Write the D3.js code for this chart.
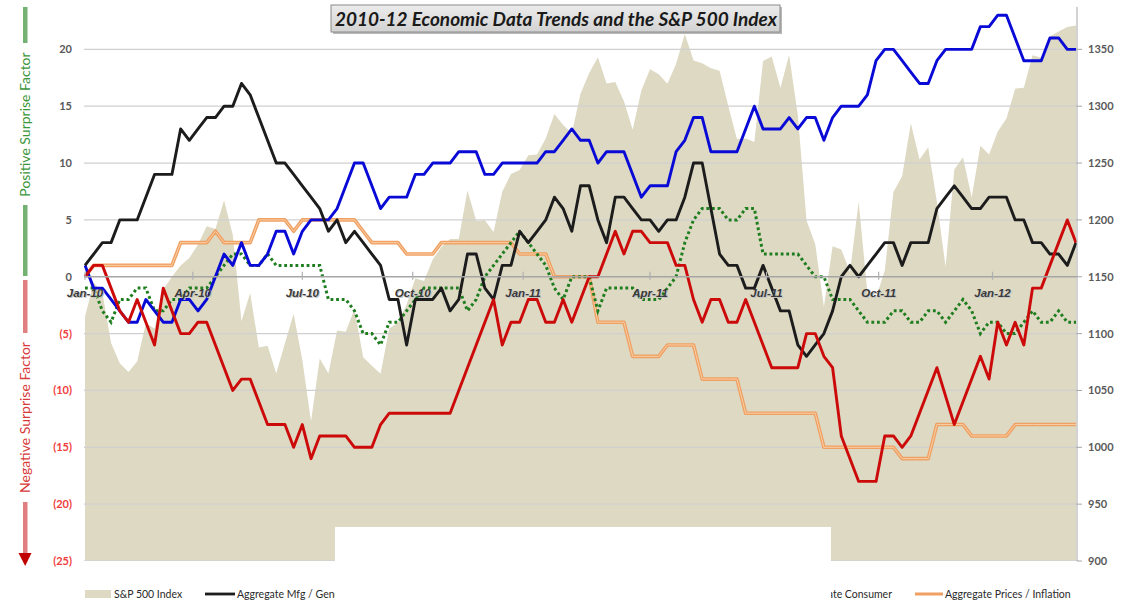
<!DOCTYPE html>
<html><head><meta charset="utf-8">
<script src="https://cdn.jsdelivr.net/npm/d3@7"></script>
<style>body{margin:0;background:#fff}svg{display:block}</style>
</head><body><svg id="c" width="1125" height="603"></svg>
<script>
// ---- DATA (weekly observations, Jan-2010 .. Mar-2012) ----
const weeks = d3.range(115); // category index of each weekly observation
const sp500 = [1115.1,1145.0,1136.0,1091.8,1073.9,1066.2,1075.5,1109.2,1104.5,1138.7,1150.0,1159.9,1166.6,1178.1,1194.4,1192.1,1217.3,1186.7,1110.9,1135.7,1087.7,1089.4,1064.9,1091.6,1117.5,1076.8,1022.6,1078.0,1064.9,1102.7,1101.6,1121.6,1079.3,1071.7,1064.6,1104.5,1109.6,1125.6,1148.7,1146.2,1165.2,1176.2,1183.1,1183.3,1225.9,1199.2,1199.7,1189.4,1224.7,1240.4,1243.9,1256.8,1257.6,1271.5,1293.2,1283.4,1276.3,1310.9,1329.2,1343.0,1319.9,1321.2,1304.3,1279.2,1313.8,1332.4,1328.2,1319.7,1337.4,1363.6,1340.2,1337.8,1333.3,1331.1,1300.2,1271.0,1271.5,1268.5,1339.7,1343.8,1316.1,1345.0,1292.3,1199.4,1178.8,1123.5,1176.8,1174.0,1154.2,1216.0,1136.4,1131.4,1155.5,1224.6,1238.3,1285.1,1253.2,1263.9,1215.7,1158.7,1244.3,1255.2,1219.7,1265.3,1257.6,1277.8,1289.1,1315.4,1316.3,1344.9,1342.6,1361.2,1365.7,1369.6,1370.9];
const mfg = [1,2,3,3,5,5,5,7,9,9,9,13,12,13,14,14,15,15,17,16,14,12,10,10,9,8,7,6,4,5,3,4,3,2,1,-2,-2,-6,-2,-2,-2,-1,-3,-2,2,2,-1,-2,1,1,4,3,4,5,7,6,4,8,8,5,3,7,7,6,5,5,4,5,5,7,10,10,6,2,1,1,-1,-1,1,-1,-3,-3,-6,-7,-6,-5,-3,0,1,0,1,2,3,3,1,3,3,3,6,7,8,7,6,6,7,7,7,5,5,3,3,2,2,1,3];
const employment = [1,-1,-1,-2,-3,-4,-4,-2,-3,-4,-4,-2,-2,-3,-2,0,2,1,3,1,1,2,4,4,2,4,5,5,5,6,8,10,10,8,6,7,7,7,9,9,10,10,10,11,11,11,9,9,10,10,10,10,10,11,11,12,13,12,12,10,11,11,11,9,7,8,8,8,11,12,14,14,11,11,11,11,13,15,13,13,13,14,13,14,14,12,14,15,15,15,16,19,20,20,19,18,17,17,19,20,20,20,20,22,22,23,23,21,19,19,19,21,21,20,20];
const housing = [0,1,1,-1,-3,-4,-2,-4,-6,-1,-3,-5,-5,-4,-4,-6,-8,-10,-9,-9,-11,-13,-13,-13,-15,-13,-16,-14,-14,-14,-14,-15,-15,-15,-13,-12,-12,-12,-12,-12,-12,-12,-12,-10,-8,-6,-4,-2,-6,-4,-4,-2,-2,-4,-4,-2,-4,-2,0,0,2,4,2,4,4,3,3,3,1,1,-2,-4,-2,-2,-4,-4,-2,-4,-6,-8,-8,-8,-8,-5,-5,-7,-8,-14,-16,-18,-18,-18,-14,-14,-15,-14,-12,-10,-8,-10.5,-13,-11,-9,-7,-9,-4,-6,-4,-6,-1,-1,1,3,5,3];
const consumer = [-1,-1,-3,-4,-2,-2,-1,-1,-3,-3,-2,-2,-1,-1,-1,0,1,2,2,1,1,2,1,1,1,1,1,1,-2,-2,-2,-3,-5,-5,-6,-4,-4,-3,-2,-1,-1,-1,-1,-1,-3,-2,0,1,2,3,4,3,2,1,-1,-2,0,0,0,-3,-1,-1,-1,-1,-2,-2,-2,-1,0,3,5,6,6,6,5,5,6,6,2,2,2,2,2,1,0,0,-2,-2,-2,-3,-4,-4,-4,-3,-3,-4,-4,-3,-3,-4,-3,-2,-3,-5,-4,-4,-5,-5,-4,-3,-4,-4,-3,-4,-4];
const prices = [0,1,1,1,1,1,1,1,1,1,1,3,3,3,3,4,3,3,3,3,5,5,5,5,4,5,5,5,5,5,5,5,4,3,3,3,3,2,2,2,2,3,3,3,3,3,3,3,3,3,2,2,2,2,0,0,0,0,0,-4,-4,-4,-4,-7,-7,-7,-7,-6,-6,-6,-6,-9,-9,-9,-9,-9,-12,-12,-12,-12,-12,-12,-12,-12,-12,-15,-15,-15,-15,-15,-15,-15,-15,-15,-16,-16,-16,-16,-13,-13,-13,-13,-14,-14,-14,-14,-14,-13,-13,-13,-13,-13,-13,-13,-13];
const leftTicks = [20,15,10,5,0,-5,-10,-15,-20,-25];
const rightTicks = [900,950,1000,1050,1100,1150,1200,1250,1300,1350];
const xTickPos = [0,12.4,25,37.7,50.4,65,78.4,91.3,104.4];
const xTickLabels = ["Jan-10","Apr-10","Jul-10","Oct-10","Jan-11","Apr-11","Jul-11","Oct-11","Jan-12"];
const titleText = "2010-12 Economic Data Trends and the S&P 500 Index";

// ---- CHART ----
const svg = d3.select("#c");
const x = d3.scaleLinear().domain([0,114]).range([85,1076]);
const yL = d3.scaleLinear().domain([-25,25]).range([561,-7.5]);
const yR = d3.scaleLinear().domain([900,1400]).range([561,-7.5]);
const plotL = 84, plotR = 1077, plotT = 7, plotB = 561;

const defs = svg.append("defs");
defs.append("clipPath").attr("id","clip").append("rect")
  .attr("x",plotL).attr("y",plotT).attr("width",plotR-plotL).attr("height",plotB-plotT);
const g = defs.append("linearGradient").attr("id","tg").attr("x1",0).attr("y1",0).attr("x2",0).attr("y2",1);
g.append("stop").attr("offset","0%").attr("stop-color","#ececec");
g.append("stop").attr("offset","100%").attr("stop-color","#d2d2d2");

const plot = svg.append("g").attr("clip-path","url(#clip)");

// S&P area
plot.append("path").datum(weeks)
  .attr("fill","#ddd9c3")
  .attr("d", d3.area().x(i=>x(i)).y0(yR(900)).y1(i=>yR(sp500[i])));

// gridlines
plot.selectAll("line.grid").data(leftTicks.filter(t=>t!==0)).join("line")
  .attr("x1",plotL).attr("x2",plotR).attr("y1",d=>yL(d)).attr("y2",d=>yL(d))
  .attr("stroke","#d0d0d0").attr("stroke-width",1.3);

// zero axis line + ticks
svg.append("line").attr("x1",plotL).attr("x2",plotR).attr("y1",yL(0)).attr("y2",yL(0))
  .attr("stroke","#a6a6a6").attr("stroke-width",1.5);
svg.selectAll("line.xt").data(xTickPos).join("line")
  .attr("x1",d=>x(d)).attr("x2",d=>x(d)).attr("y1",yL(0)-5).attr("y2",yL(0)+3)
  .attr("stroke","#b0b0b0").attr("stroke-width",1.2);

// x labels with soft shadow
const xl = svg.append("g").attr("font-family","Liberation Sans, Arial, sans-serif")
  .attr("font-size",11.5).attr("font-weight","bold").attr("font-style","italic").attr("text-anchor","middle");
xl.selectAll("text.s").data(xTickPos).join("text")
  .attr("x",d=>x(d)+1).attr("y",yL(0)+21).attr("fill","#c4c4c4").text((d,i)=>xTickLabels[i]);
xl.selectAll("text.m").data(xTickPos).join("text")
  .attr("x",d=>x(d)).attr("y",yL(0)+20).attr("fill","#3a3a3a").text((d,i)=>xTickLabels[i]);

// right axis
svg.append("line").attr("x1",plotR).attr("x2",plotR).attr("y1",plotT).attr("y2",plotB)
  .attr("stroke","#a6a6a6").attr("stroke-width",1);
svg.selectAll("line.rt").data(rightTicks).join("line")
  .attr("x1",plotR).attr("x2",plotR+5).attr("y1",d=>yR(d)).attr("y2",d=>yR(d))
  .attr("stroke","#a6a6a6");
svg.selectAll("text.rl").data(rightTicks).join("text")
  .attr("x",plotR+11).attr("y",d=>yR(d)+4).attr("font-family","Lato, sans-serif")
  .attr("font-size",11).attr("font-weight","bold").attr("fill","#595959").text(d=>d);

// left labels
svg.selectAll("text.ll").data(leftTicks).join("text")
  .attr("x",72).attr("y",d=>yL(d)+4).attr("text-anchor","end")
  .attr("font-family","Lato, sans-serif").attr("font-size",11).attr("font-weight","bold")
  .attr("fill",d=>d<0?"#f03c3c":"#595959")
  .text(d=>d<0?"("+(-d)+")":d);

// series lines
const line = arr => d3.line().x(i=>x(i)).y(i=>yL(arr[i]))(weeks);
plot.append("path").attr("d",line(prices)).attr("fill","none").attr("stroke","#f0a062").attr("stroke-width",3.6).attr("stroke-linejoin","round");
plot.append("path").attr("d",line(prices)).attr("fill","none").attr("stroke","#f9cfa6").attr("stroke-width",1).attr("stroke-linejoin","round");
plot.append("path").attr("d",line(consumer)).attr("fill","none").attr("stroke","#1e7d1e").attr("stroke-width",3).attr("stroke-dasharray","2.8,2.8");
plot.append("path").attr("d",line(employment)).attr("fill","none").attr("stroke","#0a0ad6").attr("stroke-width",2.9).attr("stroke-linejoin","round");
plot.append("path").attr("d",line(mfg)).attr("fill","none").attr("stroke","#1c1c1c").attr("stroke-width",2.9).attr("stroke-linejoin","round");
plot.append("path").attr("d",line(housing)).attr("fill","none").attr("stroke","#cc0a0a").attr("stroke-width",2.9).attr("stroke-linejoin","round");

// side labels
const side = svg.append("g");
side.append("rect").attr("x",23).attr("y",7).attr("width",4.5).attr("height",36).attr("fill","#74b274");
side.append("rect").attr("x",23).attr("y",205).attr("width",4.5).attr("height",71).attr("fill","#74b274");
side.append("text").attr("transform","translate(25,124.5) rotate(-90)").attr("text-anchor","middle")
  .attr("dy","0.35em").attr("font-family","Lato, sans-serif").attr("font-size",14).attr("fill","#3a963a")
  .text("Positive Surprise Factor");
side.append("rect").attr("x",23).attr("y",280).attr("width",4.5).attr("height",53).attr("fill","#e08080");
side.append("rect").attr("x",23).attr("y",502).attr("width",4.5).attr("height",52).attr("fill","#e08080");
side.append("path").attr("d","M18.5,553 L31.5,553 L25.2,566 Z").attr("fill","#c00000");
side.append("text").attr("transform","translate(25,417.5) rotate(-90)").attr("text-anchor","middle")
  .attr("dy","0.35em").attr("font-family","Lato, sans-serif").attr("font-size",14).attr("fill","#d83a3a")
  .text("Negative Surprise Factor");

// title box
svg.append("rect").attr("x",333).attr("y",7).attr("width",449).attr("height",27).attr("fill","#b8b8b8");
svg.append("rect").attr("x",331).attr("y",5).attr("width",449).attr("height",27).attr("fill","url(#tg)")
  .attr("stroke","#8a8a8a").attr("stroke-width",1);
svg.append("text").attr("x",556).attr("y",25.5).attr("text-anchor","middle")
  .attr("font-family","Lato, sans-serif").attr("font-size",19).attr("font-weight","bold").attr("font-style","italic")
  .attr("fill","#1a1a1a").text(titleText);

// legend
const lg = svg.append("g").attr("font-family","Lato, sans-serif").attr("font-size",10.5).attr("fill","#2a2a2a");
lg.append("rect").attr("x",85).attr("y",590).attr("width",26).attr("height",8).attr("fill","#ddd9c3");
lg.append("text").attr("x",114).attr("y",598).text("S&P 500 Index");
lg.append("line").attr("x1",205).attr("x2",235).attr("y1",594).attr("y2",594).attr("stroke","#1c1c1c").attr("stroke-width",2.8);
lg.append("text").attr("x",237).attr("y",598).text("Aggregate Mfg / General Business");
lg.append("line").attr("x1",430).attr("x2",460).attr("y1",594).attr("y2",594).attr("stroke","#0a0ad6").attr("stroke-width",2.8);
lg.append("text").attr("x",462).attr("y",598).text("Aggregate Employment");
lg.append("line").attr("x1",610).attr("x2",640).attr("y1",594).attr("y2",594).attr("stroke","#cc0a0a").attr("stroke-width",2.8);
lg.append("text").attr("x",642).attr("y",598).text("Aggregate Housing");
lg.append("text").attr("x",892).attr("y",598).attr("text-anchor","end").text("Aggregate Consumer");
lg.append("line").attr("x1",915).attr("x2",943).attr("y1",594).attr("y2",594).attr("stroke","#f0a062").attr("stroke-width",3);
lg.append("text").attr("x",945).attr("y",598).text("Aggregate Prices / Inflation");

// white mask box as in reference
svg.append("rect").attr("x",335).attr("y",527).attr("width",496).attr("height",76).attr("fill","#fff");
</script></body></html>
